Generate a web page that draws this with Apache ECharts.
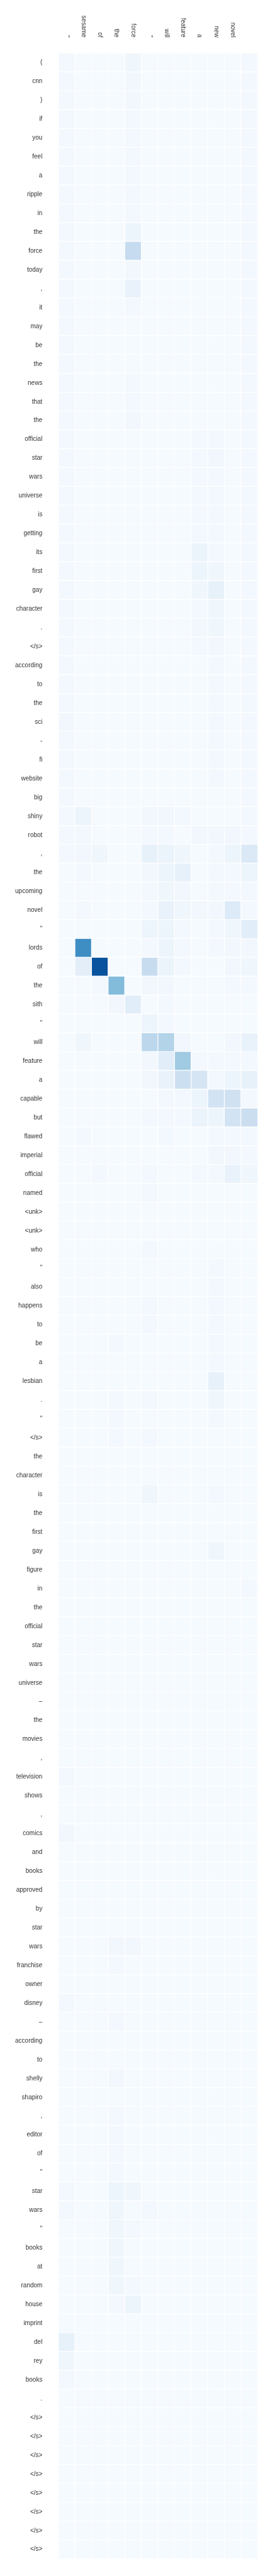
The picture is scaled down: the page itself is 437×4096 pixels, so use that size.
<!DOCTYPE html>
<html>
<head>
<meta charset="utf-8">
<script src="https://cdn.jsdelivr.net/npm/echarts@6/dist/echarts.min.js"></script>
<style>html,body{margin:0;padding:0;background:#fff}#c{width:437px;height:4096px}</style>
</head>
<body>
<div id="c"></div>
<script>
const colLabels = ['"', 'sesame', 'of', 'the', 'force', '"', 'will', 'feature', 'a', 'new', 'novel', ''];
const rowLabels = ['(', 'cnn', ')', 'if', 'you', 'feel', 'a', 'ripple', 'in', 'the', 'force', 'today', ',', 'it', 'may', 'be', 'the', 'news', 'that', 'the', 'official', 'star', 'wars', 'universe', 'is', 'getting', 'its', 'first', 'gay', 'character', '.', '</s>', 'according', 'to', 'the', 'sci', '-', 'fi', 'website', 'big', 'shiny', 'robot', ',', 'the', 'upcoming', 'novel', '"', 'lords', 'of', 'the', 'sith', '"', 'will', 'feature', 'a', 'capable', 'but', 'flawed', 'imperial', 'official', 'named', '<unk>', '<unk>', 'who', '"', 'also', 'happens', 'to', 'be', 'a', 'lesbian', '.', '"', '</s>', 'the', 'character', 'is', 'the', 'first', 'gay', 'figure', 'in', 'the', 'official', 'star', 'wars', 'universe', '–', 'the', 'movies', ',', 'television', 'shows', ',', 'comics', 'and', 'books', 'approved', 'by', 'star', 'wars', 'franchise', 'owner', 'disney', '–', 'according', 'to', 'shelly', 'shapiro', ',', 'editor', 'of', '"', 'star', 'wars', '"', 'books', 'at', 'random', 'house', 'imprint', 'del', 'rey', 'books', '.', '</s>', '</s>', '</s>', '</s>', '</s>', '</s>', '</s>', '</s>'];
const weights = [
[0.02,0.01,0.01,0.01,0.04,0.01,0.01,0.01,0.01,0.01,0.01,0.02],
[0.02,0.01,0.01,0.01,0.03,0.01,0.01,0.01,0.01,0.01,0.01,0.02],
[0.02,0.01,0.01,0.01,0.03,0.01,0.01,0.01,0.01,0.01,0.01,0.02],
[0.02,0.01,0.01,0.01,0.02,0.01,0.01,0.01,0.01,0.01,0.01,0.02],
[0.02,0.01,0.01,0.01,0.02,0.01,0.01,0.01,0.01,0.01,0.01,0.02],
[0.02,0.01,0.01,0.01,0.02,0.01,0.01,0.01,0.01,0.01,0.01,0.02],
[0.02,0.01,0.01,0.01,0.02,0.01,0.01,0.01,0.01,0.01,0.01,0.02],
[0.02,0.01,0.01,0.01,0.02,0.01,0.01,0.01,0.01,0.01,0.01,0.02],
[0.02,0.01,0.01,0.01,0.02,0.01,0.01,0.01,0.01,0.01,0.01,0.02],
[0.02,0.01,0.01,0.01,0.05,0.01,0.01,0.01,0.01,0.01,0.01,0.02],
[0.02,0.01,0.01,0.01,0.25,0.01,0.01,0.01,0.01,0.01,0.01,0.02],
[0.02,0.01,0.01,0.01,0.03,0.01,0.01,0.01,0.01,0.01,0.01,0.02],
[0.02,0.01,0.01,0.01,0.07,0.01,0.01,0.01,0.01,0.01,0.01,0.02],
[0.02,0.01,0.01,0.01,0.02,0.01,0.01,0.01,0.01,0.01,0.01,0.02],
[0.02,0.01,0.01,0.01,0.01,0.01,0.01,0.01,0.01,0.01,0.01,0.02],
[0.02,0.01,0.01,0.01,0.01,0.01,0.01,0.01,0.01,0.01,0.01,0.02],
[0.02,0.01,0.01,0.01,0.01,0.01,0.01,0.01,0.01,0.01,0.01,0.02],
[0.02,0.01,0.01,0.01,0.02,0.01,0.01,0.01,0.01,0.01,0.01,0.02],
[0.02,0.01,0.01,0.01,0.02,0.01,0.01,0.01,0.01,0.01,0.01,0.02],
[0.02,0.01,0.01,0.01,0.03,0.01,0.01,0.01,0.01,0.01,0.01,0.02],
[0.02,0.01,0.01,0.01,0.01,0.01,0.01,0.01,0.02,0.02,0.01,0.02],
[0.02,0.01,0.01,0.01,0.01,0.01,0.01,0.01,0.02,0.03,0.01,0.02],
[0.02,0.01,0.01,0.01,0.01,0.01,0.01,0.01,0.02,0.02,0.01,0.02],
[0.02,0.01,0.01,0.01,0.01,0.01,0.01,0.01,0.02,0.02,0.01,0.02],
[0.02,0.01,0.01,0.01,0.01,0.01,0.01,0.01,0.02,0.02,0.01,0.02],
[0.02,0.01,0.01,0.01,0.01,0.01,0.01,0.01,0.02,0.02,0.01,0.02],
[0.02,0.01,0.01,0.01,0.01,0.01,0.01,0.01,0.06,0.02,0.01,0.02],
[0.02,0.01,0.01,0.01,0.01,0.01,0.01,0.01,0.05,0.04,0.01,0.02],
[0.02,0.01,0.01,0.01,0.01,0.01,0.01,0.01,0.04,0.08,0.01,0.02],
[0.02,0.01,0.01,0.01,0.01,0.01,0.01,0.01,0.02,0.04,0.01,0.02],
[0.02,0.01,0.01,0.01,0.01,0.01,0.01,0.01,0.03,0.04,0.01,0.02],
[0.02,0.01,0.01,0.01,0.01,0.01,0.01,0.01,0.02,0.03,0.01,0.02],
[0.02,0.01,0.01,0.01,0.01,0.01,0.01,0.01,0.01,0.02,0.01,0.02],
[0.02,0.01,0.01,0.01,0.01,0.01,0.01,0.01,0.01,0.02,0.01,0.02],
[0.02,0.01,0.01,0.01,0.01,0.01,0.01,0.01,0.01,0.02,0.01,0.02],
[0.03,0.01,0.01,0.01,0.01,0.01,0.01,0.01,0.01,0.02,0.01,0.02],
[0.02,0.01,0.01,0.01,0.01,0.01,0.01,0.01,0.01,0.02,0.01,0.02],
[0.02,0.01,0.01,0.01,0.01,0.01,0.01,0.01,0.01,0.02,0.01,0.02],
[0.02,0.01,0.01,0.01,0.01,0.01,0.01,0.01,0.01,0.02,0.01,0.02],
[0.02,0.01,0.01,0.01,0.01,0.01,0.01,0.01,0.01,0.01,0.01,0.02],
[0.02,0.05,0.01,0.01,0.01,0.03,0.03,0.02,0.01,0.01,0.01,0.02],
[0.02,0.02,0.01,0.01,0.01,0.02,0.02,0.01,0.03,0.03,0.03,0.02],
[0.02,0.03,0.04,0.01,0.01,0.08,0.06,0.04,0.01,0.02,0.05,0.14],
[0.01,0.02,0.01,0.01,0.01,0.03,0.05,0.08,0.01,0.02,0.02,0.05],
[0.01,0.01,0.01,0.01,0.01,0.02,0.04,0.03,0.01,0.02,0.02,0.02],
[0.01,0.02,0.01,0.01,0.01,0.02,0.07,0.04,0.03,0.03,0.13,0.02],
[0.01,0.01,0.01,0.01,0.01,0.05,0.05,0.02,0.01,0.02,0.04,0.11],
[0.01,0.64,0.01,0.01,0.01,0.02,0.05,0.02,0.01,0.02,0.03,0.03],
[0.01,0.10,0.87,0.01,0.01,0.24,0.06,0.02,0.01,0.01,0.03,0.04],
[0.01,0.01,0.02,0.44,0.01,0.03,0.03,0.01,0.01,0.01,0.02,0.02],
[0.01,0.01,0.01,0.03,0.11,0.01,0.02,0.01,0.01,0.01,0.01,0.01],
[0.01,0.01,0.01,0.01,0.01,0.05,0.02,0.01,0.01,0.01,0.01,0.01],
[0.01,0.04,0.01,0.01,0.01,0.28,0.31,0.03,0.01,0.01,0.03,0.07],
[0.01,0.01,0.01,0.01,0.01,0.03,0.11,0.37,0.02,0.02,0.02,0.02],
[0.01,0.01,0.01,0.01,0.01,0.03,0.07,0.22,0.17,0.02,0.05,0.08],
[0.01,0.01,0.01,0.01,0.01,0.01,0.02,0.02,0.05,0.19,0.20,0.02],
[0.01,0.01,0.01,0.01,0.01,0.02,0.02,0.02,0.06,0.05,0.19,0.23],
[0.01,0.02,0.01,0.01,0.01,0.01,0.02,0.01,0.01,0.02,0.02,0.02],
[0.01,0.01,0.01,0.01,0.01,0.01,0.01,0.01,0.01,0.03,0.03,0.02],
[0.01,0.01,0.02,0.01,0.01,0.02,0.01,0.01,0.02,0.02,0.07,0.04],
[0.01,0.01,0.01,0.01,0.01,0.02,0.01,0.01,0.01,0.01,0.01,0.01],
[0.01,0.01,0.01,0.01,0.01,0.01,0.01,0.01,0.01,0.01,0.01,0.01],
[0.01,0.01,0.01,0.01,0.01,0.01,0.01,0.01,0.01,0.01,0.01,0.01],
[0.01,0.01,0.01,0.01,0.01,0.02,0.01,0.01,0.01,0.01,0.01,0.01],
[0.01,0.01,0.01,0.01,0.01,0.01,0.01,0.01,0.01,0.02,0.01,0.01],
[0.01,0.01,0.01,0.01,0.01,0.01,0.01,0.01,0.01,0.02,0.01,0.01],
[0.01,0.01,0.01,0.01,0.01,0.02,0.01,0.01,0.01,0.02,0.01,0.01],
[0.01,0.01,0.01,0.01,0.01,0.02,0.01,0.01,0.01,0.02,0.01,0.01],
[0.01,0.01,0.01,0.02,0.01,0.01,0.01,0.01,0.01,0.02,0.01,0.01],
[0.01,0.01,0.01,0.01,0.01,0.01,0.01,0.01,0.01,0.02,0.01,0.01],
[0.01,0.01,0.01,0.01,0.01,0.01,0.01,0.01,0.01,0.08,0.01,0.01],
[0.01,0.01,0.01,0.02,0.01,0.02,0.01,0.01,0.01,0.04,0.01,0.01],
[0.01,0.01,0.01,0.02,0.01,0.01,0.01,0.01,0.01,0.02,0.01,0.01],
[0.01,0.01,0.01,0.02,0.01,0.02,0.01,0.01,0.01,0.01,0.01,0.01],
[0.01,0.01,0.01,0.01,0.01,0.01,0.01,0.01,0.01,0.01,0.01,0.01],
[0.01,0.01,0.01,0.01,0.01,0.01,0.01,0.01,0.01,0.01,0.01,0.01],
[0.01,0.01,0.01,0.01,0.01,0.04,0.01,0.01,0.01,0.02,0.01,0.01],
[0.01,0.01,0.01,0.01,0.01,0.01,0.01,0.01,0.01,0.01,0.01,0.01],
[0.01,0.01,0.01,0.01,0.01,0.01,0.01,0.01,0.01,0.01,0.01,0.01],
[0.01,0.01,0.01,0.01,0.01,0.01,0.01,0.01,0.01,0.04,0.01,0.01],
[0.01,0.01,0.01,0.01,0.01,0.01,0.01,0.01,0.01,0.01,0.01,0.01],
[0.01,0.01,0.01,0.01,0.01,0.01,0.01,0.01,0.01,0.01,0.01,0.02],
[0.01,0.01,0.01,0.01,0.01,0.01,0.01,0.01,0.01,0.01,0.01,0.01],
[0.01,0.01,0.01,0.01,0.01,0.01,0.01,0.01,0.01,0.01,0.01,0.01],
[0.01,0.01,0.01,0.01,0.01,0.01,0.01,0.01,0.01,0.01,0.01,0.01],
[0.01,0.01,0.01,0.01,0.01,0.01,0.01,0.01,0.01,0.01,0.01,0.01],
[0.01,0.01,0.01,0.01,0.01,0.01,0.01,0.01,0.01,0.01,0.01,0.01],
[0.01,0.01,0.01,0.01,0.01,0.01,0.01,0.01,0.01,0.01,0.01,0.01],
[0.01,0.01,0.01,0.01,0.01,0.01,0.01,0.01,0.01,0.01,0.01,0.01],
[0.01,0.01,0.01,0.01,0.01,0.01,0.01,0.01,0.01,0.01,0.01,0.01],
[0.01,0.01,0.01,0.01,0.01,0.01,0.01,0.01,0.01,0.01,0.01,0.01],
[0.02,0.01,0.01,0.01,0.01,0.01,0.01,0.01,0.01,0.01,0.01,0.01],
[0.01,0.01,0.01,0.01,0.01,0.01,0.01,0.01,0.01,0.01,0.01,0.01],
[0.01,0.01,0.01,0.01,0.01,0.01,0.01,0.01,0.01,0.01,0.01,0.01],
[0.03,0.01,0.01,0.01,0.01,0.01,0.01,0.01,0.01,0.01,0.01,0.01],
[0.01,0.01,0.01,0.01,0.01,0.01,0.01,0.01,0.01,0.01,0.01,0.01],
[0.01,0.01,0.01,0.01,0.01,0.01,0.01,0.01,0.01,0.01,0.01,0.01],
[0.01,0.01,0.01,0.01,0.01,0.01,0.01,0.01,0.01,0.01,0.01,0.01],
[0.01,0.01,0.01,0.01,0.01,0.01,0.01,0.01,0.01,0.01,0.01,0.01],
[0.01,0.01,0.01,0.01,0.01,0.01,0.01,0.01,0.01,0.01,0.01,0.01],
[0.01,0.01,0.01,0.03,0.03,0.01,0.01,0.01,0.01,0.01,0.01,0.01],
[0.01,0.01,0.01,0.02,0.01,0.01,0.01,0.01,0.01,0.01,0.01,0.01],
[0.01,0.01,0.01,0.01,0.01,0.01,0.01,0.01,0.01,0.01,0.01,0.01],
[0.02,0.01,0.01,0.01,0.01,0.01,0.01,0.01,0.01,0.01,0.01,0.01],
[0.01,0.01,0.01,0.02,0.01,0.01,0.01,0.01,0.01,0.01,0.01,0.01],
[0.01,0.01,0.01,0.01,0.01,0.01,0.01,0.01,0.01,0.01,0.01,0.01],
[0.01,0.01,0.01,0.01,0.01,0.01,0.01,0.01,0.01,0.01,0.01,0.01],
[0.01,0.01,0.01,0.03,0.01,0.01,0.01,0.01,0.01,0.01,0.01,0.01],
[0.01,0.01,0.01,0.01,0.01,0.01,0.01,0.01,0.01,0.01,0.01,0.01],
[0.01,0.01,0.01,0.02,0.01,0.01,0.01,0.01,0.01,0.01,0.01,0.01],
[0.01,0.01,0.01,0.02,0.01,0.01,0.01,0.01,0.01,0.01,0.01,0.01],
[0.01,0.01,0.01,0.02,0.01,0.01,0.01,0.01,0.01,0.01,0.01,0.01],
[0.01,0.01,0.01,0.02,0.01,0.01,0.01,0.01,0.01,0.01,0.01,0.01],
[0.02,0.01,0.01,0.05,0.04,0.01,0.01,0.01,0.01,0.01,0.01,0.01],
[0.02,0.01,0.01,0.04,0.01,0.02,0.01,0.01,0.01,0.01,0.01,0.01],
[0.01,0.01,0.01,0.04,0.02,0.01,0.01,0.01,0.01,0.01,0.01,0.01],
[0.01,0.01,0.01,0.04,0.01,0.01,0.01,0.01,0.01,0.01,0.01,0.01],
[0.01,0.01,0.01,0.04,0.01,0.01,0.01,0.01,0.01,0.01,0.01,0.01],
[0.01,0.01,0.01,0.04,0.02,0.01,0.01,0.01,0.01,0.01,0.01,0.01],
[0.01,0.01,0.01,0.02,0.05,0.01,0.01,0.01,0.01,0.01,0.01,0.01],
[0.01,0.01,0.01,0.01,0.01,0.01,0.01,0.01,0.01,0.01,0.01,0.01],
[0.08,0.01,0.01,0.01,0.01,0.01,0.01,0.01,0.01,0.01,0.01,0.01],
[0.04,0.01,0.01,0.01,0.01,0.01,0.01,0.01,0.01,0.01,0.01,0.01],
[0.02,0.01,0.01,0.01,0.01,0.01,0.01,0.01,0.01,0.01,0.01,0.01],
[0.01,0.01,0.01,0.01,0.01,0.01,0.01,0.01,0.01,0.01,0.01,0.01],
[0.01,0.01,0.01,0.01,0.01,0.01,0.01,0.01,0.01,0.01,0.01,0.01],
[0.01,0.01,0.01,0.01,0.01,0.01,0.01,0.01,0.01,0.01,0.01,0.01],
[0.01,0.01,0.01,0.01,0.01,0.01,0.01,0.01,0.01,0.01,0.01,0.01],
[0.01,0.01,0.01,0.01,0.01,0.01,0.01,0.01,0.01,0.01,0.01,0.01],
[0.01,0.01,0.01,0.01,0.01,0.01,0.01,0.01,0.01,0.01,0.01,0.01],
[0.01,0.01,0.01,0.01,0.01,0.01,0.01,0.01,0.01,0.01,0.01,0.01],
[0.01,0.01,0.01,0.01,0.01,0.01,0.01,0.01,0.01,0.01,0.01,0.01],
[0.01,0.01,0.01,0.01,0.01,0.01,0.01,0.01,0.01,0.01,0.01,0.01]
];
const blues = ['#f7fbff','#deebf7','#c6dbef','#9ecae1','#6baed6','#4292c6','#2171b5','#08519c','#08306b'];

const data = [];
weights.forEach((row, r) => row.forEach((v, c) => data.push([c, r, v])));

const chart = echarts.init(document.getElementById('c'), null, {renderer: 'canvas'});
const font = '"Liberation Sans", Arial, Helvetica, sans-serif';
chart.setOption({
  animation: false,
  backgroundColor: '#ffffff',
  grid: {left: 92.9, right: 27.5, top: 84.6, bottom: 27.3, containLabel: false},
  xAxis: {
    type: 'category', position: 'top', data: colLabels,
    axisLine: {show: false}, axisTick: {show: false}, splitLine: {show: false},
    axisLabel: {interval: 0, rotate: 90, margin: 25, fontSize: 10, color: '#333', fontFamily: font}
  },
  yAxis: {
    type: 'category', inverse: true, data: rowLabels,
    axisLine: {show: false}, axisTick: {show: false}, splitLine: {show: false},
    axisLabel: {interval: 0, margin: 25.5, fontSize: 10, color: '#333', fontFamily: font}
  },
  visualMap: {show: false, type: 'continuous', min: 0, max: 1, dimension: 2, inRange: {color: blues}},
  series: [{
    type: 'heatmap', data: data,
    itemStyle: {borderColor: '#ffffff', borderWidth: 1.2},
    emphasis: {disabled: true}
  }]
});
</script>
</body>
</html>
